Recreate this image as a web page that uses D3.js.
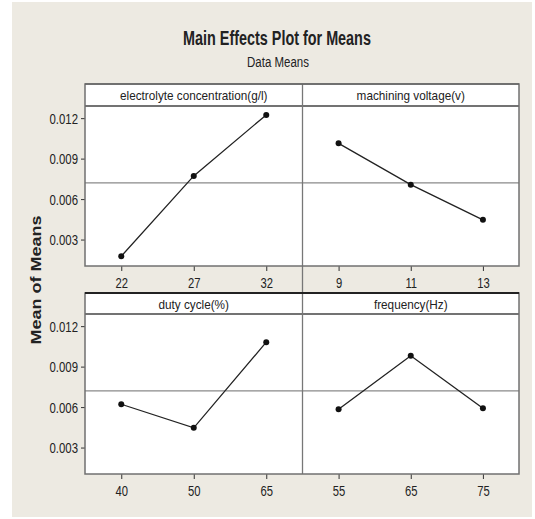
<!DOCTYPE html>
<html>
<head>
<meta charset="utf-8">
<script src="https://cdn.jsdelivr.net/npm/d3@7"></script>
<style>
  html, body { margin: 0; padding: 0; background: #ffffff; }
  svg { display: block; }
  text { font-family: "Liberation Sans", Arial, sans-serif; fill: #222; }
</style>
</head>
<body>
<svg id="chart" width="535" height="519"></svg>
<script>
// Factors, their levels and the mean response at each level
const factors = [
  "electrolyte concentration(g/l)",
  "machining voltage(v)",
  "duty cycle(%)",
  "frequency(Hz)"
];
const levels = [
  ["22", "27", "32"],
  ["9", "11", "13"],
  ["40", "50", "65"],
  ["55", "65", "75"]
];
const electrolyteMeans = [0.00176, 0.00772, 0.01224];
const voltageMeans     = [0.01013, 0.00707, 0.00446];
const dutyMeans        = [0.00621, 0.00446, 0.01081];
const frequencyMeans   = [0.00584, 0.00981, 0.00591];
const means = [electrolyteMeans, voltageMeans, dutyMeans, frequencyMeans];
const grandMean = 0.0072;
const yTicks = [0.003, 0.006, 0.009, 0.012];
const yDomain = [0.00104, 0.0129];

const svg = d3.select("#chart");

// Window background
svg.append("rect")
  .attr("x", 12).attr("y", 2).attr("width", 520).attr("height", 515)
  .attr("fill", "#edeae2");

// Titles
svg.append("text")
  .attr("transform", "translate(277,45) scale(0.72,1)")
  .attr("text-anchor", "middle")
  .attr("font-size", 20).attr("font-weight", "bold")
  .attr("fill", "#111")
  .text("Main Effects Plot for Means");
svg.append("text")
  .attr("transform", "translate(278,66.5) scale(0.82,1)")
  .attr("text-anchor", "middle")
  .attr("font-size", 14)
  .text("Data Means");

// Y axis title
svg.append("text")
  .attr("transform", "translate(41,280) rotate(-90) scale(1.2,1)")
  .attr("text-anchor", "middle")
  .attr("font-size", 15).attr("font-weight", "bold")
  .attr("fill", "#111")
  .text("Mean of Means");

// Panel grid geometry
const colX = [85, 302.5, 519];
const rows = [
  { stripTop: 84, stripH: 22, plotBottom: 266 },
  { stripTop: 293, stripH: 21, plotBottom: 474 }
];

// Divider between the columns runs through both rows
svg.append("line")
  .attr("x1", colX[1]).attr("x2", colX[1])
  .attr("y1", rows[0].stripTop).attr("y2", rows[1].plotBottom)
  .attr("stroke", "#777").attr("stroke-width", 1.3);

rows.forEach((row, r) => {
  const plotTop = row.stripTop + row.stripH;
  const y = d3.scaleLinear().domain(yDomain).range([row.plotBottom, plotTop]);

  const g = svg.append("g");

  // Plot area and strips
  g.append("rect")
    .attr("x", colX[0]).attr("y", row.stripTop)
    .attr("width", colX[2] - colX[0]).attr("height", row.plotBottom - row.stripTop)
    .attr("fill", "#ffffff");

  // Left axis
  const yAxis = g.append("g")
    .attr("transform", `translate(${colX[0]},0)`)
    .call(d3.axisLeft(y).tickValues(yTicks).tickFormat(d3.format(".3f")).tickSize(4));
  yAxis.select(".domain").remove();
  yAxis.selectAll(".tick line").attr("stroke", "#333");
  yAxis.selectAll(".tick text")
    .attr("x", null).attr("dy", "0.35em")
    .attr("transform", "translate(-7,0) scale(0.76,1)")
    .attr("font-size", 15)
    .attr("font-family", "Liberation Sans, Arial, sans-serif")
    .attr("fill", "#222");

  for (let c = 0; c < 2; c++) {
    const idx = r * 2 + c;
    const x = d3.scalePoint().domain(levels[idx]).range([colX[c], colX[c + 1]]).padding(0.5);

    // Grand mean reference line
    g.append("line")
      .attr("x1", colX[c]).attr("x2", colX[c + 1])
      .attr("y1", y(grandMean)).attr("y2", y(grandMean))
      .attr("stroke", "#8a8a8a").attr("stroke-width", 1.2);

    // Bottom axis
    const xAxis = g.append("g")
      .attr("transform", `translate(0,${row.plotBottom})`)
      .call(d3.axisBottom(x).tickSize(5));
    xAxis.select(".domain").remove();
    xAxis.selectAll(".tick line").attr("stroke", "#333");
    xAxis.selectAll(".tick text")
      .attr("y", null).attr("dy", "0.71em")
      .attr("transform", "translate(0,11) scale(0.75,1)")
      .attr("font-size", 15)
      .attr("font-family", "Liberation Sans, Arial, sans-serif")
      .attr("fill", "#222");

    // Level means
    const pts = levels[idx].map((lv, i) => [x(lv), y(means[idx][i])]);
    g.append("path")
      .attr("d", d3.line()(pts))
      .attr("fill", "none").attr("stroke", "#222").attr("stroke-width", 1.3);
    g.selectAll(null).data(pts).enter().append("circle")
      .attr("cx", d => d[0]).attr("cy", d => d[1]).attr("r", 3)
      .attr("fill", "#111");

    // Factor strip label
    g.append("text")
      .attr("transform", `translate(${(colX[c] + colX[c + 1]) / 2},${row.stripTop + row.stripH / 2 + 5}) scale(0.87,1)`)
      .attr("text-anchor", "middle")
      .attr("font-size", 13.5)
      .text(factors[idx]);
  }

  // Strip separators and panel frame
  g.append("line")
    .attr("x1", colX[0]).attr("x2", colX[2])
    .attr("y1", plotTop).attr("y2", plotTop)
    .attr("stroke", "#444").attr("stroke-width", 1.5);
  g.append("line")
    .attr("x1", colX[1]).attr("x2", colX[1])
    .attr("y1", row.stripTop).attr("y2", row.plotBottom)
    .attr("stroke", "#777").attr("stroke-width", 1.3);
  g.append("rect")
    .attr("x", colX[0]).attr("y", row.stripTop)
    .attr("width", colX[2] - colX[0]).attr("height", row.plotBottom - row.stripTop)
    .attr("fill", "none").attr("stroke", "#707070").attr("stroke-width", 1.5);
  g.append("line")
    .attr("x1", colX[0]).attr("x2", colX[2])
    .attr("y1", row.stripTop).attr("y2", row.stripTop)
    .attr("stroke", r === 0 ? "#666" : "#222").attr("stroke-width", r === 0 ? 1.5 : 2);
});
</script>
</body>
</html>
